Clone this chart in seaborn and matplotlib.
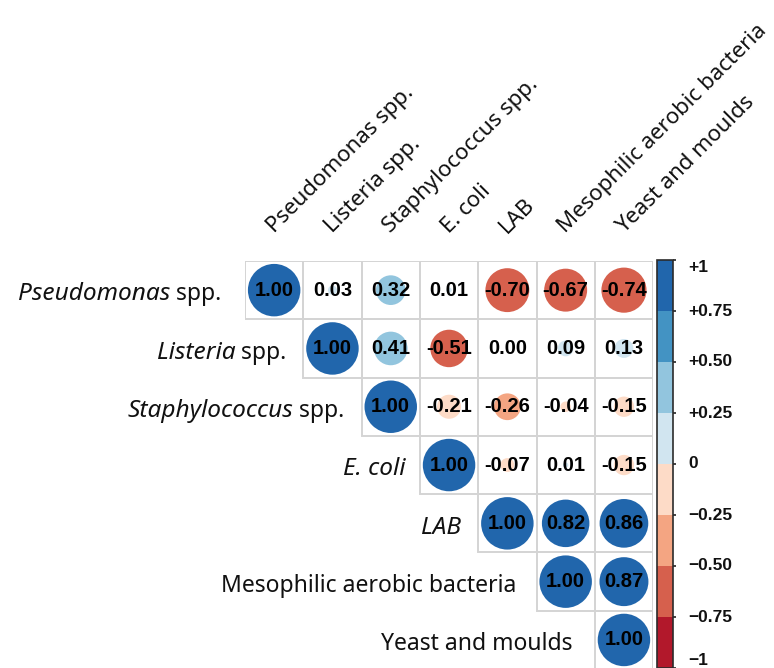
import numpy as np
import pandas as pd
import matplotlib
matplotlib.use("Agg")
import matplotlib.pyplot as plt
from matplotlib.colors import ListedColormap, BoundaryNorm
from matplotlib.cm import ScalarMappable
from matplotlib.patches import Rectangle
import matplotlib.transforms as mtransforms
import seaborn as sns

sns.set_style("white")
plt.rcParams["font.family"] = ["Noto Sans", "DejaVu Sans"]

# Variable names as (text, italic) pieces for the row labels
labels = [
    [("Pseudomonas", True), (" spp.", False)],
    [("Listeria", True), (" spp.", False)],
    [("Staphylococcus", True), (" spp.", False)],
    [("E. coli", True)],
    [("LAB", True)],
    [("Mesophilic aerobic bacteria", False)],
    [("Yeast and moulds", False)],
]

# Upper-triangle correlation coefficients, row by row starting at the diagonal
corr_pseudomonas = [1.00, 0.03, 0.32, 0.01, -0.70, -0.67, -0.74]
corr_listeria = [1.00, 0.41, -0.51, 0.00, 0.09, 0.13]
corr_staphylococcus = [1.00, -0.21, -0.26, -0.04, -0.15]
corr_ecoli = [1.00, -0.07, 0.01, -0.15]
corr_lab = [1.00, 0.82, 0.86]
corr_mesophilic = [1.00, 0.87]
corr_yeast = [1.00]

# Colour scale
bin_edges = [-1, -0.75, -0.5, -0.25, 0, 0.25, 0.5, 0.75, 1]
bin_colors = ["#B2182B", "#D6604D", "#F4A582", "#FDDBC7",
              "#D1E5F0", "#92C5DE", "#4393C3", "#2166AC"]
cbar_ticks = [1, 0.75, 0.5, 0.25, 0, -0.25, -0.5, -0.75, -1]
cbar_ticklabels = ["+1", "+0.75", "+0.50", "+0.25", "0",
                   "\u22120.25", "\u22120.50", "\u22120.75", "\u22121"]

rows = [corr_pseudomonas, corr_listeria, corr_staphylococcus, corr_ecoli,
        corr_lab, corr_mesophilic, corr_yeast]
n = len(rows)
mat = np.full((n, n), np.nan)
records = []
for i, r in enumerate(rows):
    for k, v in enumerate(r):
        j = i + k
        mat[i, j] = v
        b = int(np.clip(np.digitize(v, bin_edges[1:-1]), 0, 7))
        records.append({"row": i, "col": j, "value": v,
                        "absval": abs(v), "bin": f"b{b}",
                        "x": j + 0.5, "y": i + 0.5})
df = pd.DataFrame(records)

W, H, DPI = 774, 668, 100
fig = plt.figure(figsize=(W / DPI, H / DPI), dpi=DPI)
fig.patch.set_facecolor("white")
renderer = fig.canvas.get_renderer()

cell = 58.3
x0, y0 = 245, 261
ax = fig.add_axes([x0 / W, 1 - (y0 + n * cell) / H, n * cell / W, n * cell / H])

# White upper-triangle matrix with light grey cell borders
sns.heatmap(np.zeros((n, n)), mask=np.isnan(mat), cmap=ListedColormap(["white"]),
            cbar=False, linewidths=0, xticklabels=False, yticklabels=False, ax=ax)
for i in range(n):
    for j in range(i, n):
        ax.add_patch(Rectangle((j, i), 1, 1, facecolor="none",
                               edgecolor="#d4d4d4", linewidth=1.4, zorder=2))

# Circles: area proportional to |r|
cell_pt = cell * 72 / DPI
smax = (0.9 * cell_pt) ** 2
palette = {f"b{k}": c for k, c in enumerate(bin_colors)}
sns.scatterplot(data=df, x="x", y="y", hue="bin", palette=palette,
                size="absval", sizes=(0, smax), size_norm=(0, 1),
                linewidth=0, legend=False, ax=ax, zorder=3)

for _, rec in df.iterrows():
    ax.text(rec["x"], rec["y"], f"{rec['value']:.2f}", ha="center", va="center",
            fontsize=14.5, fontweight="bold", family="Liberation Sans",
            color="black", zorder=4)

ax.set_xlim(0, n)
ax.set_ylim(n, 0)
ax.set_xlabel("")
ax.set_ylabel("")
for s in ax.spines.values():
    s.set_visible(False)

LABEL_FS = 16.5
ITALIC_FS = 17.6
COL_FS = 16.0


def piece_width(txt, italic):
    t = fig.text(0, 0, txt, fontsize=ITALIC_FS if italic else LABEL_FS,
                 fontstyle="italic" if italic else "normal")
    w = t.get_window_extent(renderer).width
    t.remove()
    return w


def draw_row_label(pieces, x, y):
    widths = [piece_width(p, it) for p, it in pieces]
    off = -sum(widths)
    for (p, it), w in zip(pieces, widths):
        trans = mtransforms.offset_copy(ax.transData, fig=fig, x=off, y=0,
                                        units="dots")
        ax.text(x, y, p, transform=trans, ha="left", va="center_baseline",
                fontsize=ITALIC_FS if it else LABEL_FS,
                fontstyle="italic" if it else "normal", color="#111111")
        off += w


# Gap between each row label and its diagonal cell (in cells)
row_gaps = [0.40, 0.29, 0.29, 0.25, 0.29, 0.34, 0.39]

for i, pieces in enumerate(labels):
    draw_row_label(pieces, i - row_gaps[i], i + 0.52)
    col_text = "".join(p for p, _ in pieces)
    ax.text(i + 0.5, -0.47, col_text, ha="left", va="baseline", rotation=45,
            rotation_mode="anchor", fontsize=COL_FS, color="#111111")

# Colour bar
cb_top = 260
cax = fig.add_axes([657 / W, 0, 16 / W, (H - cb_top) / H])
sm = ScalarMappable(norm=BoundaryNorm(bin_edges, len(bin_colors)),
                    cmap=ListedColormap(bin_colors))
cb = fig.colorbar(sm, cax=cax, ticks=cbar_ticks)
cb.outline.set_edgecolor("#2b2b2b")
cb.outline.set_linewidth(1.2)
cax.tick_params(axis="y", length=2.5, width=1.2, color="#222222", labelright=False)
tr = mtransforms.blended_transform_factory(cax.transAxes, cax.transData)
for t, lab in zip(cbar_ticks, cbar_ticklabels):
    va = "center"
    if t == 1:
        va = "top"
    elif t == -1:
        va = "bottom"
    cax.text(1.95, t, lab, transform=tr, ha="left", va=va, fontsize=12.5,
             fontweight="bold", family="Liberation Sans", color="#111111")

fig.savefig("out.png", dpi=DPI, facecolor="white")
